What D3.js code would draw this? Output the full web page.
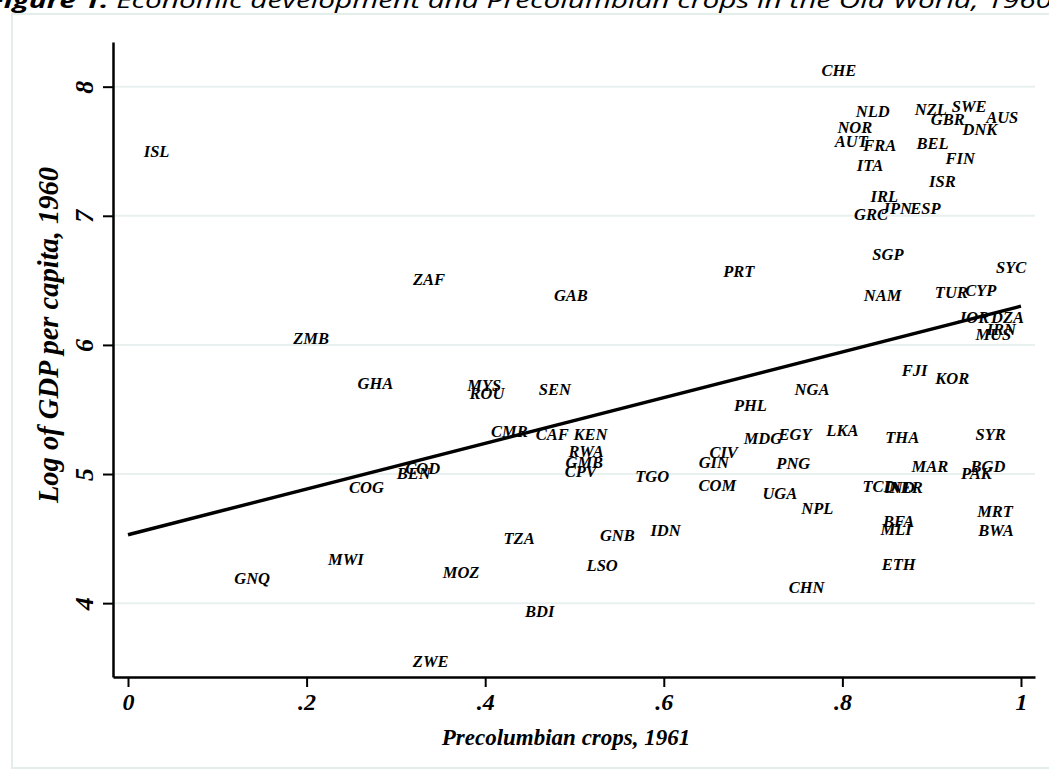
<!DOCTYPE html>
<html>
<head>
<meta charset="utf-8">
<script src="https://cdn.jsdelivr.net/npm/d3@7"></script>
<style>
  body { margin: 0; background: #fff; }
  .lbl { font-family: 'Liberation Serif', 'Times New Roman', serif; font-weight: bold; font-style: italic; }
</style>
</head>
<body>
<div id="wrapper"></div>
<script>
// country codes, share of precolumbian crops (1961), log GDP per capita (1960)
const codes = ['CHE','NLD','NZL','SWE','GBR','AUS','DNK','NOR','AUT','FRA','BEL','ITA','FIN','ISR','IRL','GRC','JPN','ESP',
  'SGP','PRT','SYC','NAM','TUR','CYP','JOR','DZA','IRN','MUS','FJI','KOR','NGA','PHL','MDG','EGY','LKA','THA','SYR',
  'CIV','GIN','PNG','MAR','BGD','PAK','COM','TCD','NER','IND','NPL','UGA','MRT','BFA','MLI','BWA','ETH','CHN',
  'MYS','ROU','SEN','CMR','CAF','KEN','RWA','GMB','CPV','TGO','TZA','GNB','IDN','GHA','COG','BEN','COD',
  'GNQ','MWI','MOZ','LSO','BDI','ZWE','ISL','ZAF','ZMB','GAB']
const crops = [0.796,0.834,0.899,0.942,0.918,0.979,0.954,0.814,0.810,0.842,0.901,0.831,0.932,0.912,0.847,0.832,0.861,0.893,
  0.851,0.684,0.989,0.845,0.922,0.955,0.947,0.985,0.978,0.969,0.881,0.923,0.766,0.697,0.711,0.747,0.800,0.867,0.966,
  0.667,0.656,0.745,0.898,0.963,0.950,0.660,0.841,0.871,0.864,0.772,0.730,0.971,0.863,0.860,0.972,0.863,0.760,
  0.399,0.402,0.478,0.427,0.475,0.518,0.513,0.511,0.507,0.587,0.438,0.548,0.602,0.277,0.267,0.320,0.330,
  0.139,0.244,0.373,0.531,0.461,0.339,0.032,0.337,0.205,0.496]
const gdp = [8.129,7.812,7.827,7.850,7.750,7.765,7.672,7.688,7.579,7.548,7.564,7.393,7.448,7.270,7.153,7.014,7.060,7.060,
  6.704,6.572,6.603,6.387,6.410,6.425,6.216,6.216,6.123,6.084,5.806,5.744,5.658,5.534,5.279,5.310,5.341,5.287,5.310,
  5.170,5.093,5.085,5.062,5.062,5.008,4.915,4.907,4.900,4.895,4.737,4.853,4.713,4.636,4.574,4.566,4.303,4.125,
  5.689,5.627,5.658,5.333,5.310,5.310,5.178,5.093,5.023,4.985,4.504,4.527,4.566,5.705,4.899,5.008,5.047,
  4.194,4.342,4.235,4.295,3.939,3.551,7.502,6.510,6.053,6.387]

// fitted line end points
const fitX = [0, 1]
const fitY = [4.53, 6.30]

const xTicks = [0, 0.2, 0.4, 0.6, 0.8, 1]
const xTickLabels = ['0', '.2', '.4', '.6', '.8', '1']
const yTicks = [4, 5, 6, 7, 8]
const yTickLabels = ['4', '5', '6', '7', '8']

const dataset = codes.map((c, i) => ({ code: c, x: crops[i], y: gdp[i] }))

let dimensions = {
  width: 1049,
  height: 771,
  plot: { left: 113, right: 1035, top: 42, bottom: 677 }
}

const svg = d3.select('#wrapper').append('svg')
  .attr('width', dimensions.width)
  .attr('height', dimensions.height)

// outer frame
svg.append('rect')
  .attr('x', 12).attr('y', 14)
  .attr('width', 1060).attr('height', 754)
  .attr('fill', '#fff')
  .attr('stroke', '#e3eeeb')
  .attr('stroke-width', 2)

// figure caption, partly cut off by the page edge
const cap = svg.append('text')
  .attr('x', -12).attr('y', 8)
  .attr('textLength', 1064)
  .attr('lengthAdjust', 'spacingAndGlyphs')
  .style('font-family', "'Open Sans', sans-serif")
  .style('font-style', 'italic')
  .style('font-size', '21px')
  .attr('fill', '#000')
cap.append('tspan').style('font-weight', 'bold').text('Figure 1.')
cap.append('tspan').text(' Economic development and Precolumbian crops in the Old World, 1960')

// scales
const xScale = d3.scaleLinear()
  .domain([-0.0168, 1.0157])
  .range([dimensions.plot.left, dimensions.plot.right])

const yScale = d3.scaleLinear()
  .domain([3.428, 8.346])
  .range([dimensions.plot.bottom, dimensions.plot.top])

// gridlines
svg.append('g').selectAll('line')
  .data(yTicks)
  .enter().append('line')
    .attr('x1', dimensions.plot.left)
    .attr('x2', dimensions.plot.right)
    .attr('y1', d => yScale(d))
    .attr('y2', d => yScale(d))
    .attr('stroke', '#e8f1ef')
    .attr('stroke-width', 2)

// country labels
svg.append('g').selectAll('text')
  .data(dataset)
  .enter().append('text')
    .attr('class', 'lbl')
    .attr('x', d => xScale(d.x))
    .attr('y', d => yScale(d.y))
    .attr('dy', '0.34em')
    .attr('text-anchor', 'middle')
    .style('font-size', '16.5px')
    .attr('fill', '#000')
    .text(d => d.code)

// fitted line
svg.append('path')
  .datum(fitX.map((x, i) => [x, fitY[i]]))
  .attr('d', d3.line().x(d => xScale(d[0])).y(d => yScale(d[1])))
  .attr('fill', 'none')
  .attr('stroke', '#000')
  .attr('stroke-width', 3.5)

// axes
const xAxis = svg.append('g')
  .attr('transform', `translate(0,${dimensions.plot.bottom})`)
  .call(d3.axisBottom(xScale)
    .tickValues(xTicks)
    .tickFormat((d, i) => xTickLabels[i])
    .tickSizeInner(10)
    .tickSizeOuter(0))
xAxis.select('.domain').attr('stroke-width', 2.5)
xAxis.selectAll('.tick line').attr('stroke-width', 2)
xAxis.selectAll('.tick text')
  .attr('class', 'lbl')
  .attr('y', 33)
  .attr('dy', null)
  .style('font-size', '24px')

const yAxis = svg.append('g')
  .attr('transform', `translate(${dimensions.plot.left},0)`)
  .call(d3.axisLeft(yScale)
    .tickValues(yTicks)
    .tickFormat((d, i) => yTickLabels[i])
    .tickSizeInner(10)
    .tickSizeOuter(0))
yAxis.select('.domain').attr('stroke-width', 2.5)
yAxis.selectAll('.tick line').attr('stroke-width', 2)
yAxis.selectAll('.tick text')
  .attr('class', 'lbl')
  .attr('x', null)
  .attr('dy', null)
  .attr('text-anchor', 'middle')
  .attr('transform', 'translate(-20,0) rotate(-90)')
  .style('font-size', '26px')

svg.selectAll('.tick text').attr('fill', '#000')
svg.selectAll('.domain, .tick line').attr('stroke', '#000')

// axis titles
svg.append('text')
  .attr('class', 'lbl')
  .attr('x', 566).attr('y', 745)
  .attr('text-anchor', 'middle')
  .style('font-size', '23px')
  .text('Precolumbian crops, 1961')

svg.append('text')
  .attr('class', 'lbl')
  .attr('transform', 'translate(58,335) rotate(-90)')
  .attr('text-anchor', 'middle')
  .style('font-size', '28.5px')
  .text('Log of GDP per capita, 1960')
</script>
</body>
</html>
